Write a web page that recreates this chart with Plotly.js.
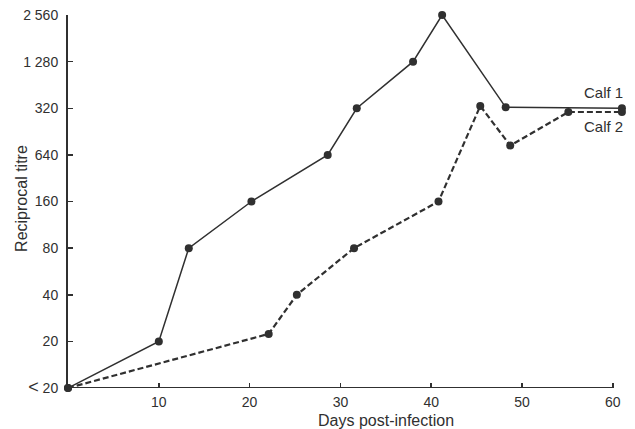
<!DOCTYPE html>
<html>
<head>
<meta charset="utf-8">
<script src="https://cdn.plot.ly/plotly-3.0.1.min.js"></script>
<style>
html,body{margin:0;padding:0;background:#fff;}
#chart{width:635px;height:429px;}
</style>
</head>
<body>
<div id="chart"></div>
<script>
// Tick labels of the titre scale (evenly spaced levels, bottom to top, as printed)
var yLabels = ["<span style='font-size:18px'>&lt;</span> 20", "20", "40", "80", "160", "640", "320", "1 280", "2 560"];
var yLevels = [0, 1, 2, 3, 4, 5, 6, 7, 8];
var xTicks = [10, 20, 30, 40, 50, 60];

// Calf 1: day post-infection and titre level (position on the scale above)
var calf1Days  = [0, 10, 13.3, 20.2, 28.6, 31.8, 38.0, 41.2, 48.2, 61];
var calf1Level = [0, 1, 3, 4, 5, 6, 7, 8, 6.02, 6];

// Calf 2
var calf2Days  = [0, 22.1, 25.2, 31.5, 40.8, 45.4, 48.7, 55.1, 61];
var calf2Level = [0, 1.16, 2, 3, 4, 6.05, 5.2, 5.92, 5.92];

var ink = "#303030";

var traces = [
  {
    x: calf1Days, y: calf1Level, name: "Calf 1",
    type: "scatter", mode: "lines+markers", cliponaxis: false,
    line: {color: ink, width: 1.5},
    marker: {color: ink, size: 8}
  },
  {
    x: calf2Days, y: calf2Level, name: "Calf 2",
    type: "scatter", mode: "lines+markers", cliponaxis: false,
    line: {color: ink, width: 2.2, dash: "6px,3px"},
    marker: {color: ink, size: 8}
  }
];

var layout = {
  width: 635, height: 429,
  margin: {l: 68, r: 4, t: 15, b: 41},
  paper_bgcolor: "#ffffff", plot_bgcolor: "#ffffff",
  showlegend: false,
  font: {family: "Liberation Sans, Arial, sans-serif", color: ink},
  xaxis: {
    range: [0, 62], showgrid: false, zeroline: false, showline: false,
    tickvals: xTicks, ticktext: xTicks.map(String),
    ticks: "inside", ticklen: 5, tickwidth: 1.5, tickcolor: ink,
    tickfont: {size: 14, color: ink}, ticklabelstandoff: 4
  },
  yaxis: {
    range: [0, 8], showgrid: false, zeroline: false,
    showline: true, linecolor: ink, linewidth: 2,
    tickvals: yLevels, ticktext: yLabels,
    ticks: "inside", ticklen: 5, tickwidth: 1.5, tickcolor: ink,
    tickfont: {size: 14, color: ink}, ticklabelstandoff: 5
  },
  shapes: [
    {type: "line", xref: "x", yref: "y", x0: 0, x1: 60, y0: 0, y1: 0,
     line: {color: ink, width: 2}}
  ],
  annotations: [
    {text: "Calf 1", xref: "x", yref: "y", x: 61.3, y: 6.33,
     xanchor: "right", yanchor: "middle", showarrow: false,
     font: {size: 15, color: ink}},
    {text: "Calf 2", xref: "x", yref: "y", x: 61.3, y: 5.61,
     xanchor: "right", yanchor: "middle", showarrow: false,
     font: {size: 15, color: ink}},
    {text: "Days post-infection", xref: "x", yref: "paper", x: 35, y: -0.086,
     xanchor: "center", yanchor: "middle", showarrow: false,
     font: {size: 16, color: ink}},
    {text: "Reciprocal titre", xref: "paper", yref: "paper", x: -0.0817, y: 0.507,
     xanchor: "center", yanchor: "middle", textangle: -90, showarrow: false,
     font: {size: 16, color: ink}}
  ]
};

Plotly.newPlot("chart", traces, layout, {displayModeBar: false, staticPlot: true});
</script>
</body>
</html>
